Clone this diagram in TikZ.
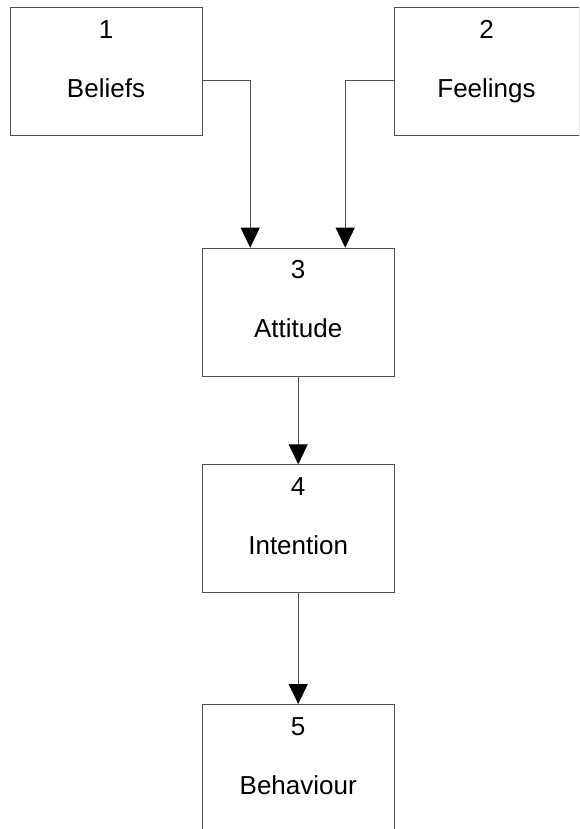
\documentclass[tikz,border=0pt]{standalone}
\usepackage{fontspec}
\setmainfont{Liberation Sans}
\usetikzlibrary{arrows.meta}
\definecolor{boxline}{HTML}{505050}
\begin{document}
\begin{tikzpicture}[x=1pt,y=-1pt,
  box/.style={draw=boxline, line width=1pt, minimum width=192pt, minimum height=128pt,
              inner sep=0pt, anchor=north west},
  txt/.style={font=\fontsize{26}{31}\selectfont, inner sep=0pt, anchor=base},
  flow/.style={draw=boxline, line width=1pt,
               -{Triangle[width=19pt,length=20pt,color=black]}}]
  \useasboundingbox (0,0) rectangle (579,829);
  \clip (0,0) rectangle (579,829);

  % boxes
  \node[box] (b1) at (9.5,7.5) {};
  \node[box, minimum width=185pt] (b2) at (393.5,7.5) {};
  \node[box] (b3) at (201.7,247.7) {};
  \node[box] (b4) at (201.7,464.3) {};
  \node[box] (b5) at (201.7,704) {};

  % numbers and labels
  \node[txt] (n1) at ([yshift=-31pt]b1.north) {1};
  \node[txt] (l1) at ([yshift=-90pt]b1.north) {Beliefs};
  \node[txt] (n2) at ([yshift=-31pt]b2.north) {2};
  \node[txt] (l2) at ([yshift=-90pt]b2.north) {Feelings};
  \node[txt] (n3) at ([yshift=-31pt]b3.north) {3};
  \node[txt] (l3) at ([yshift=-90pt]b3.north) {Attitude};
  \node[txt] (n4) at ([yshift=-31pt]b4.north) {4};
  \node[txt] (l4) at ([yshift=-90pt]b4.north) {Intention};
  \node[txt] (n5) at ([yshift=-31pt]b5.north) {5};
  \node[txt] (l5) at ([yshift=-90pt]b5.north) {Behaviour};

  % connectors
  \draw[flow] ([yshift=-8.4pt]b1.east) -| ([xshift=-48pt]b3.north);
  \draw[flow] ([yshift=-8.4pt]b2.west) -| ([xshift=47pt]b3.north);
  \draw[flow] (b3.south) -- (b4.north);
  \draw[flow] (b4.south) -- (b5.north);
\end{tikzpicture}
\end{document}
